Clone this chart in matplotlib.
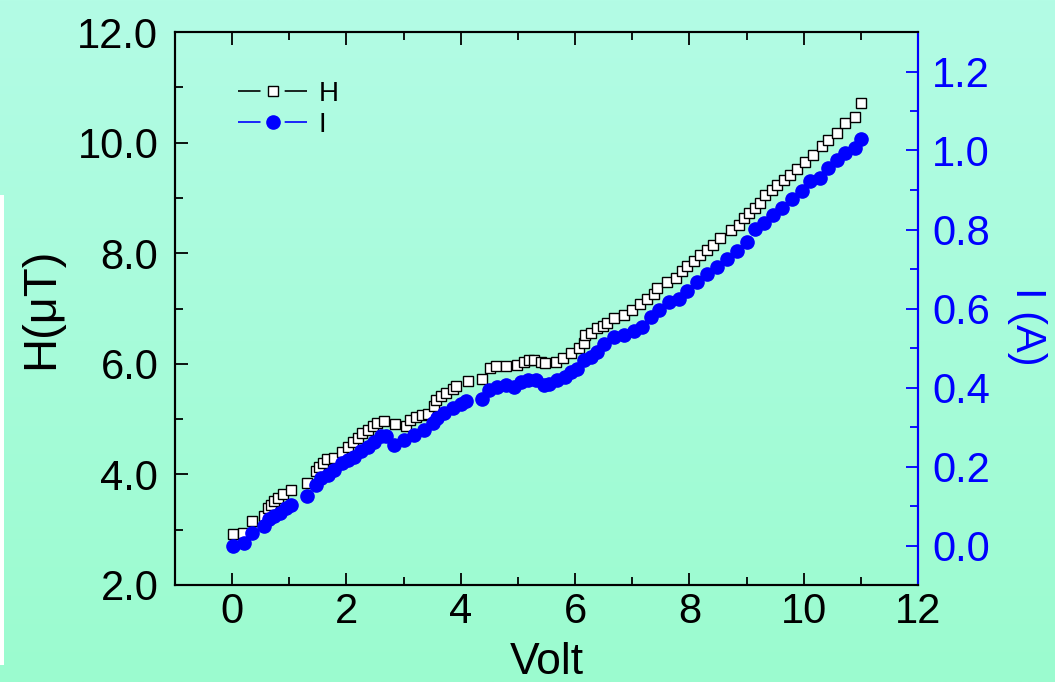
import numpy as np
import matplotlib.pyplot as plt
from matplotlib.ticker import MultipleLocator, FormatStrFormatter
from matplotlib.lines import Line2D

plt.rcParams['font.family'] = ['Liberation Sans', 'DejaVu Sans']

# H(uT) vs voltage
volt_h = [0.01, 0.19, 0.34, 0.55, 0.62, 0.68, 0.73, 0.80, 0.89, 1.03,
          1.31, 1.47, 1.52, 1.59, 1.66, 1.78, 1.93, 2.02, 2.11, 2.20,
          2.28, 2.37, 2.46, 2.54, 2.65, 2.85, 3.04, 3.11, 3.21, 3.33,
          3.42, 3.53, 3.56, 3.65, 3.74, 3.86, 3.91, 4.12, 4.37, 4.52,
          4.61, 4.80, 4.99, 5.11, 5.19, 5.28, 5.40, 5.48, 5.66, 5.78,
          5.92, 6.07, 6.15, 6.18, 6.27, 6.39, 6.48, 6.56, 6.68, 6.85,
          7.00, 7.14, 7.26, 7.38, 7.44, 7.61, 7.76, 7.87, 7.96, 8.08,
          8.19, 8.31, 8.42, 8.54, 8.72, 8.86, 8.95, 9.04, 9.15, 9.24,
          9.33, 9.44, 9.53, 9.65, 9.76, 9.88, 10.03, 10.17, 10.32, 10.43,
          10.58, 10.73, 10.90, 11.00]
h_val = [2.92, 2.94, 3.16, 3.24, 3.39, 3.45, 3.51, 3.57, 3.65, 3.72,
         3.84, 4.06, 4.14, 4.21, 4.28, 4.30, 4.41, 4.50, 4.59, 4.66,
         4.74, 4.80, 4.88, 4.93, 4.97, 4.92, 4.88, 4.98, 5.04, 5.07,
         5.10, 5.24, 5.35, 5.41, 5.47, 5.54, 5.60, 5.68, 5.73, 5.92,
         5.96, 5.96, 5.98, 6.04, 6.07, 6.07, 6.04, 6.01, 6.04, 6.10,
         6.19, 6.28, 6.37, 6.52, 6.55, 6.64, 6.68, 6.74, 6.82, 6.88,
         6.97, 7.09, 7.18, 7.26, 7.37, 7.48, 7.55, 7.67, 7.76, 7.85,
         7.97, 8.06, 8.15, 8.27, 8.42, 8.51, 8.63, 8.72, 8.81, 8.90,
         9.05, 9.14, 9.23, 9.32, 9.41, 9.53, 9.65, 9.77, 9.93, 10.05,
         10.17, 10.35, 10.47, 10.71]

# I(A) vs voltage
volt_i = [0.01, 0.20, 0.34, 0.56, 0.65, 0.74, 0.83, 0.94, 1.03, 1.31,
          1.47, 1.55, 1.67, 1.79, 1.93, 2.02, 2.14, 2.25, 2.37, 2.49,
          2.60, 2.69, 2.83, 3.01, 3.18, 3.36, 3.51, 3.59, 3.71, 3.86,
          4.00, 4.10, 4.38, 4.49, 4.64, 4.79, 4.93, 5.05, 5.17, 5.31,
          5.46, 5.54, 5.69, 5.83, 5.92, 6.04, 6.15, 6.27, 6.39, 6.50,
          6.68, 6.85, 7.03, 7.17, 7.32, 7.46, 7.64, 7.81, 7.96, 8.13,
          8.31, 8.48, 8.66, 8.83, 9.01, 9.15, 9.30, 9.47, 9.62, 9.79,
          9.97, 10.11, 10.29, 10.43, 10.58, 10.73, 10.90, 11.00]
i_val = [0.000, 0.007, 0.032, 0.049, 0.066, 0.074, 0.082, 0.095, 0.103, 0.126,
         0.154, 0.171, 0.179, 0.192, 0.208, 0.217, 0.225, 0.238, 0.250, 0.263,
         0.276, 0.277, 0.255, 0.267, 0.280, 0.292, 0.309, 0.324, 0.335, 0.347,
         0.358, 0.366, 0.372, 0.393, 0.402, 0.406, 0.402, 0.414, 0.418, 0.418,
         0.406, 0.410, 0.418, 0.427, 0.439, 0.448, 0.469, 0.477, 0.490, 0.511,
         0.528, 0.532, 0.544, 0.553, 0.578, 0.595, 0.616, 0.625, 0.645, 0.666,
         0.687, 0.704, 0.725, 0.746, 0.768, 0.802, 0.817, 0.837, 0.855, 0.876,
         0.897, 0.923, 0.931, 0.956, 0.977, 0.994, 1.007, 1.030]

blue = '#0000ff'
fig = plt.figure(figsize=(10.55, 6.82), dpi=100)

# gradient background
bg = fig.add_axes([0, 0, 1, 1], zorder=-10)
top_c = np.array([179, 252, 229]) / 255
bot_c = np.array([155, 251, 207]) / 255
t = np.linspace(0, 1, 256)[:, None, None]
grad = top_c * (1 - t) + bot_c * t
bg.imshow(np.repeat(grad, 2, axis=1), aspect='auto', extent=[0, 1, 0, 1])
bg.add_patch(plt.Rectangle((0, 17 / 682), 4 / 1055, 470 / 682, color='white', lw=0))
bg.set_xlim(0, 1)
bg.set_ylim(0, 1)
bg.axis('off')

ax = fig.add_axes([175 / 1055, 97 / 682, 743 / 1055, 553 / 682])
ax.patch.set_alpha(0)
ax2 = ax.twinx()

ax.plot(volt_h, h_val, 's', ms=7.5, mfc='white', mec='black', mew=1.0, label='H')
ax2.plot(volt_i, i_val, 'o', ms=9.5, color=blue, mec=blue, label='I')

ax.set_xlim(-1, 12)
ax.set_ylim(2, 12)
ax2.set_ylim(-0.1, 1.3)

ax.xaxis.set_major_locator(MultipleLocator(2))
ax.xaxis.set_minor_locator(MultipleLocator(1))
ax.yaxis.set_major_locator(MultipleLocator(2))
ax.yaxis.set_minor_locator(MultipleLocator(1))
ax.yaxis.set_major_formatter(FormatStrFormatter('%.1f'))
ax2.yaxis.set_major_locator(MultipleLocator(0.2))
ax2.yaxis.set_minor_locator(MultipleLocator(0.1))
ax2.yaxis.set_major_formatter(FormatStrFormatter('%.1f'))

ax.tick_params(which='both', direction='in', top=True, right=False, width=1.3, labelsize=30)
ax.tick_params(which='major', length=9)
ax.tick_params(which='minor', length=5.5)
ax.tick_params(axis='x', pad=5)
ax.tick_params(axis='y', pad=12)
ax2.tick_params(which='both', direction='in', width=1.3, colors=blue, labelsize=30, pad=10)
ax2.tick_params(which='major', length=9)
ax2.tick_params(which='minor', length=5.5)

for s in ax.spines.values():
    s.set_linewidth(1.5)
for s in ax2.spines.values():
    s.set_linewidth(1.5)
ax2.spines['right'].set_color(blue)

ax.set_xlabel('Volt', fontsize=32, labelpad=7)
ax.set_ylabel('H(μT)', fontsize=34, labelpad=10)
ax2.set_ylabel('I (A)', fontsize=30, color=blue, rotation=270, va='center', ha='center')
ax2.yaxis.set_label_coords(1.147, 0.467)

l1 = ax.get_legend_handles_labels()[1]
l2 = ax2.get_legend_handles_labels()[1]
lh = [Line2D([], [], color='black', lw=1.2, ls=(0, (13.5, 14.5, 13.5)), marker='s', ms=7.5,
             mfc='white', mec='black', mew=1.0),
      Line2D([], [], color=blue, lw=1.2, ls=(0, (13.5, 14.5, 13.5)), marker='o', ms=9.5,
             mfc=blue, mec=blue)]
ax2.legend(lh, l1 + l2, loc='upper left', bbox_to_anchor=(0.0848, 0.912), frameon=False,
           fontsize=20, handlelength=2.5, handletextpad=0.4, borderpad=0, borderaxespad=0,
           labelspacing=0.2)

fig.savefig('out.png', dpi=100)
